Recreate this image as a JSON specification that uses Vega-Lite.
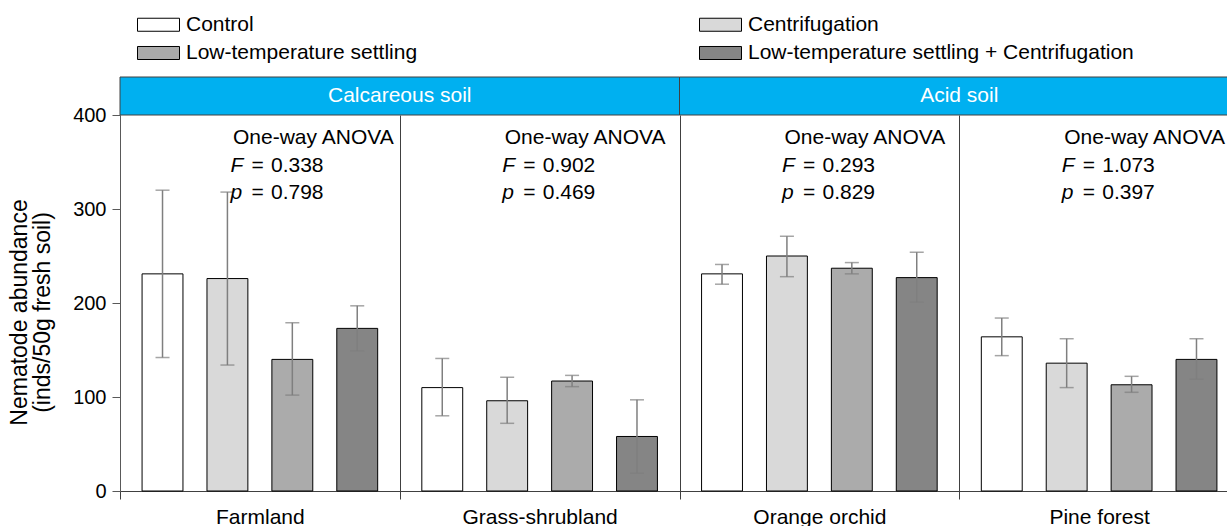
{
  "$schema": "https://vega.github.io/schema/vega-lite/v6.json",
  "padding": {"left": 8, "top": 14, "right": 0, "bottom": 0},
  "bounds": "flush",
  "config": {"font": "Liberation Sans", "view": {"stroke": null}, "concat": {"spacing": 0}},
  "datasets": {
    "bars": [
      {"site": "Farmland", "treatment": "Control", "mean": 231, "lo": 142, "hi": 320},
      {"site": "Farmland", "treatment": "Centrifugation", "mean": 226, "lo": 134, "hi": 318},
      {"site": "Farmland", "treatment": "Low-temperature settling", "mean": 140, "lo": 102, "hi": 179},
      {"site": "Farmland", "treatment": "Low-temperature settling + Centrifugation", "mean": 173, "lo": 149, "hi": 197},
      {"site": "Grass-shrubland", "treatment": "Control", "mean": 110, "lo": 80, "hi": 141},
      {"site": "Grass-shrubland", "treatment": "Centrifugation", "mean": 96, "lo": 72, "hi": 121},
      {"site": "Grass-shrubland", "treatment": "Low-temperature settling", "mean": 117, "lo": 111, "hi": 123},
      {"site": "Grass-shrubland", "treatment": "Low-temperature settling + Centrifugation", "mean": 58, "lo": 19, "hi": 97},
      {"site": "Orange orchid", "treatment": "Control", "mean": 231, "lo": 220, "hi": 241},
      {"site": "Orange orchid", "treatment": "Centrifugation", "mean": 250, "lo": 228, "hi": 271},
      {"site": "Orange orchid", "treatment": "Low-temperature settling", "mean": 237, "lo": 231, "hi": 243},
      {"site": "Orange orchid", "treatment": "Low-temperature settling + Centrifugation", "mean": 227, "lo": 201, "hi": 254},
      {"site": "Pine forest", "treatment": "Control", "mean": 164, "lo": 144, "hi": 184},
      {"site": "Pine forest", "treatment": "Centrifugation", "mean": 136, "lo": 110, "hi": 162},
      {"site": "Pine forest", "treatment": "Low-temperature settling", "mean": 113, "lo": 105, "hi": 122},
      {"site": "Pine forest", "treatment": "Low-temperature settling + Centrifugation", "mean": 140, "lo": 119, "hi": 162}
    ],
    "anova": [
      {"site": "Farmland", "F": "0.338", "p": "0.798"},
      {"site": "Grass-shrubland", "F": "0.902", "p": "0.469"},
      {"site": "Orange orchid", "F": "0.293", "p": "0.829"},
      {"site": "Pine forest", "F": "1.073", "p": "0.397"}
    ],
    "header": [
      {"soil": "Calcareous soil"},
      {"soil": "Acid soil"}
    ]
  },
  "vconcat": [
    {
      "width": 1119,
      "height": 38,
      "data": {"name": "header"},
      "encoding": {
        "x": {"field": "soil", "type": "nominal", "sort": ["Calcareous soil", "Acid soil"], "scale": {"paddingInner": 0, "paddingOuter": 0}, "axis": null}
      },
      "layer": [
        {"mark": {"type": "rect", "fill": "#00B0F0", "stroke": "#404040", "strokeWidth": 1}},
        {"mark": {"type": "text", "color": "white", "fontSize": 21}, "encoding": {"text": {"field": "soil", "type": "nominal"}}}
      ]
    },
    {
      "width": 1119,
      "height": 376,
      "encoding": {
        "x": {
          "field": "site", "type": "nominal",
          "sort": ["Farmland", "Grass-shrubland", "Orange orchid", "Pine forest"],
          "scale": {"paddingInner": 0, "paddingOuter": 0},
          "axis": {"title": null, "tickBand": "extent", "grid": true, "gridColor": "#404040", "gridOpacity": 1, "gridWidth": 1, "domainColor": "#404040", "tickColor": "#404040", "tickSize": 8, "labelFontSize": 21, "labelColor": "black", "labelAngle": 0, "labelPadding": 7}
        }
      },
      "layer": [
        {
          "data": {"name": "bars"},
          "mark": {"type": "bar", "stroke": "black", "strokeWidth": 1},
          "encoding": {
            "xOffset": {"field": "treatment", "type": "nominal", "sort": ["Control", "Centrifugation", "Low-temperature settling", "Low-temperature settling + Centrifugation"], "scale": {"paddingInner": 0.37, "paddingOuter": 0.34}},
            "y": {
              "field": "mean", "type": "quantitative",
              "title": ["Nematode abundance", "(inds/50g fresh soil)"],
              "scale": {"domain": [0, 400]},
              "axis": {"values": [0, 100, 200, 300, 400], "tickSize": 8, "domainColor": "#595959", "tickColor": "#595959", "labelFontSize": 20, "labelColor": "black", "labelPadding": 6, "grid": false, "titleFontSize": 23, "titleFontWeight": "normal", "titleColor": "black", "titlePadding": 18, "titleLineHeight": 23, "titleY": 197}
            },
            "fill": {
              "field": "treatment", "type": "nominal",
              "scale": {"domain": ["Control", "Centrifugation", "Low-temperature settling", "Low-temperature settling + Centrifugation"], "range": ["#ffffff", "#d9d9d9", "#ababab", "#858585"]},
              "legend": {"orient": "none", "direction": "horizontal", "legendX": 28, "legendY": -63, "columns": 2, "title": null, "symbolType": "M-3,-0.93H3V0.93H-3Z", "symbolSize": 196, "symbolStrokeColor": "black", "symbolStrokeWidth": 1, "symbolOpacity": 1, "labelFontSize": 21, "labelColor": "black", "labelOffset": 17, "labelLimit": 600, "columnPadding": 279, "rowPadding": 6.5}
            }
          }
        },
        {
          "data": {"name": "bars"},
          "mark": {"type": "rule", "color": "#7f7f7f", "strokeWidth": 1.5},
          "encoding": {
            "xOffset": {"field": "treatment", "type": "nominal", "sort": ["Control", "Centrifugation", "Low-temperature settling", "Low-temperature settling + Centrifugation"]},
            "y": {"field": "lo", "type": "quantitative", "title": ["Nematode abundance", "(inds/50g fresh soil)"]},
            "y2": {"field": "hi"}
          }
        },
        {
          "data": {"name": "bars"},
          "mark": {"type": "tick", "color": "#7f7f7f", "size": 14, "thickness": 1.5},
          "encoding": {
            "xOffset": {"field": "treatment", "type": "nominal", "sort": ["Control", "Centrifugation", "Low-temperature settling", "Low-temperature settling + Centrifugation"]},
            "y": {"field": "hi", "type": "quantitative", "title": ["Nematode abundance", "(inds/50g fresh soil)"]}
          }
        },
        {
          "data": {"name": "bars"},
          "mark": {"type": "tick", "color": "#7f7f7f", "size": 14, "thickness": 1.5},
          "encoding": {
            "xOffset": {"field": "treatment", "type": "nominal", "sort": ["Control", "Centrifugation", "Low-temperature settling", "Low-temperature settling + Centrifugation"]},
            "y": {"field": "lo", "type": "quantitative", "title": ["Nematode abundance", "(inds/50g fresh soil)"]}
          }
        },
        {
          "data": {"name": "anova"},
          "transform": [{"filter": "datum.site == 'Farmland'"}],
          "layer": [
            {"mark": {"type": "text", "text": "One-way ANOVA", "align": "left", "baseline": "alphabetic", "fontSize": 21, "color": "black", "dx": 113},
             "encoding": {"x": {"field": "site", "type": "nominal", "bandPosition": 0}, "y": {"datum": 369}}},
            {"mark": {"type": "text", "text": "F", "align": "left", "baseline": "alphabetic", "fontSize": 21, "fontStyle": "italic", "color": "black", "dx": 110.5},
             "encoding": {"x": {"field": "site", "type": "nominal", "bandPosition": 0}, "y": {"datum": 339.5}}},
            {"mark": {"type": "text", "text": "=", "align": "left", "baseline": "alphabetic", "fontSize": 21, "color": "black", "dx": 131.5},
             "encoding": {"x": {"field": "site", "type": "nominal", "bandPosition": 0}, "y": {"datum": 339.5}}},
            {"mark": {"type": "text", "align": "left", "baseline": "alphabetic", "fontSize": 21, "color": "black", "dx": 151},
             "encoding": {"x": {"field": "site", "type": "nominal", "bandPosition": 0}, "y": {"datum": 339.5}, "text": {"field": "F", "type": "nominal"}}},
            {"mark": {"type": "text", "text": "p", "align": "left", "baseline": "alphabetic", "fontSize": 21, "fontStyle": "italic", "color": "black", "dx": 110.5},
             "encoding": {"x": {"field": "site", "type": "nominal", "bandPosition": 0}, "y": {"datum": 310.5}}},
            {"mark": {"type": "text", "text": "=", "align": "left", "baseline": "alphabetic", "fontSize": 21, "color": "black", "dx": 131.5},
             "encoding": {"x": {"field": "site", "type": "nominal", "bandPosition": 0}, "y": {"datum": 310.5}}},
            {"mark": {"type": "text", "align": "left", "baseline": "alphabetic", "fontSize": 21, "color": "black", "dx": 151},
             "encoding": {"x": {"field": "site", "type": "nominal", "bandPosition": 0}, "y": {"datum": 310.5}, "text": {"field": "p", "type": "nominal"}}}
          ]
        },
        {
          "data": {"name": "anova"},
          "transform": [{"filter": "datum.site != 'Farmland'"}],
          "layer": [
            {"mark": {"type": "text", "text": "One-way ANOVA", "align": "left", "baseline": "alphabetic", "fontSize": 21, "color": "black", "dx": 105},
             "encoding": {"x": {"field": "site", "type": "nominal", "bandPosition": 0}, "y": {"datum": 369}}},
            {"mark": {"type": "text", "text": "F", "align": "left", "baseline": "alphabetic", "fontSize": 21, "fontStyle": "italic", "color": "black", "dx": 102.5},
             "encoding": {"x": {"field": "site", "type": "nominal", "bandPosition": 0}, "y": {"datum": 339.5}}},
            {"mark": {"type": "text", "text": "=", "align": "left", "baseline": "alphabetic", "fontSize": 21, "color": "black", "dx": 123.5},
             "encoding": {"x": {"field": "site", "type": "nominal", "bandPosition": 0}, "y": {"datum": 339.5}}},
            {"mark": {"type": "text", "align": "left", "baseline": "alphabetic", "fontSize": 21, "color": "black", "dx": 143},
             "encoding": {"x": {"field": "site", "type": "nominal", "bandPosition": 0}, "y": {"datum": 339.5}, "text": {"field": "F", "type": "nominal"}}},
            {"mark": {"type": "text", "text": "p", "align": "left", "baseline": "alphabetic", "fontSize": 21, "fontStyle": "italic", "color": "black", "dx": 102.5},
             "encoding": {"x": {"field": "site", "type": "nominal", "bandPosition": 0}, "y": {"datum": 310.5}}},
            {"mark": {"type": "text", "text": "=", "align": "left", "baseline": "alphabetic", "fontSize": 21, "color": "black", "dx": 123.5},
             "encoding": {"x": {"field": "site", "type": "nominal", "bandPosition": 0}, "y": {"datum": 310.5}}},
            {"mark": {"type": "text", "align": "left", "baseline": "alphabetic", "fontSize": 21, "color": "black", "dx": 143},
             "encoding": {"x": {"field": "site", "type": "nominal", "bandPosition": 0}, "y": {"datum": 310.5}, "text": {"field": "p", "type": "nominal"}}}
          ]
        }
      ]
    }
  ],
  "resolve": {"scale": {"x": "independent"}}
}
